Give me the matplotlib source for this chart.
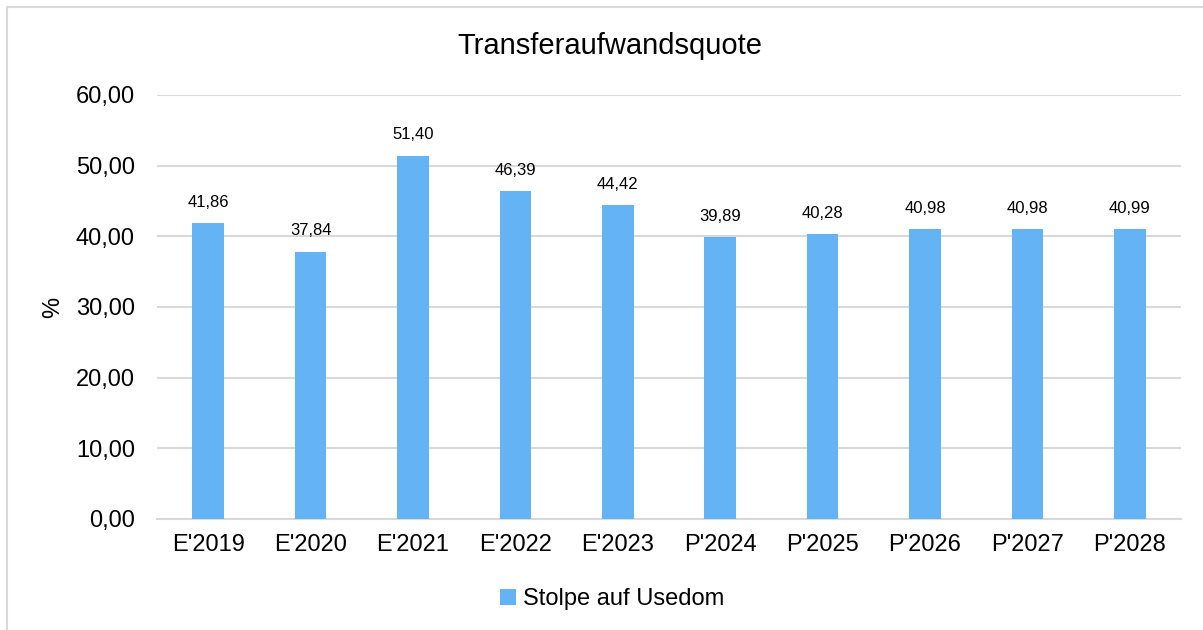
import matplotlib
matplotlib.use("Agg")
import matplotlib.pyplot as plt
from matplotlib.patches import Rectangle

plt.rcParams['font.family'] = ['Liberation Sans', 'DejaVu Sans']

categories = ["E'2019", "E'2020", "E'2021", "E'2022", "E'2023",
              "P'2024", "P'2025", "P'2026", "P'2027", "P'2028"]
values = [41.86, 37.84, 51.40, 46.39, 44.42, 39.89, 40.28, 40.98, 40.98, 40.99]
series_name = "Stolpe auf Usedom"
title = "Transferaufwandsquote"
ylabel = "%"
yticks = [0, 10, 20, 30, 40, 50, 60]

W, H = 1203, 630
fig = plt.figure(figsize=(W / 100, H / 100), dpi=100)
fig.patch.set_facecolor('white')

# outer border (light gray), starting at ~7px from top-left
fig.patches.append(Rectangle((7 / W, -0.1), 1.2, 1 - 7 / H + 0.1,
                             transform=fig.transFigure, fill=False,
                             edgecolor='#d9d9d9', linewidth=1.5, zorder=0))

left, right, bottom, top = 157, 1181, 519, 95
ax = fig.add_axes([left / W, 1 - bottom / H, (right - left) / W, (bottom - top) / H])

color = '#63B3F5'
x = list(range(len(categories)))
bars = ax.bar(x, values, width=0.31, color=color, zorder=3, label=series_name)

for xi, v in zip(x, values):
    ax.annotate(f"{v:.2f}".replace('.', ','), (xi, v), xytext=(0, 15),
                textcoords='offset points', ha='center', va='center',
                fontsize=12, color='#000000')

ax.set_xlim(-0.5, len(categories) - 0.5)
ax.set_ylim(0, 60)
ax.set_yticks(yticks)
ax.set_yticklabels([f"{t:.2f}".replace('.', ',') for t in yticks], fontsize=17)
ax.set_xticks(x)
ax.set_xticklabels(categories, fontsize=17)
ax.tick_params(axis='y', length=0, pad=16)
ax.tick_params(axis='x', length=0, pad=11)

ax.grid(axis='y', color='#d9d9d9', linewidth=1.5, zorder=0)
for s in ['top', 'right', 'left']:
    ax.spines[s].set_visible(False)
ax.spines['bottom'].set_color('#d9d9d9')
ax.spines['bottom'].set_linewidth(1.5)

ax.set_ylabel(ylabel, fontsize=17, labelpad=8)
fig.text(610 / W, 1 - 46 / H, title, ha='center', va='center', fontsize=21)

handles, labels = ax.get_legend_handles_labels()
fig.legend(handles, labels, loc='center', bbox_to_anchor=(612 / W, 1 - 599 / H),
           frameon=False, fontsize=17, handlelength=0.65, handleheight=0.65,
           handletextpad=0.3)

fig.savefig('out.png', dpi=100)
